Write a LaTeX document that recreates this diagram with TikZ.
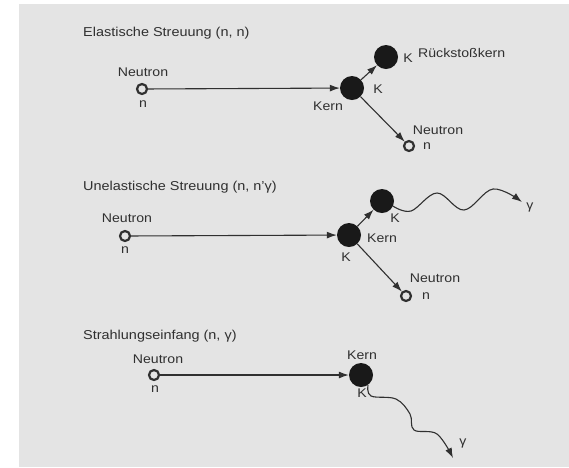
\documentclass[tikz,border=0pt]{standalone}
\usepackage{fontspec}
\setmainfont{Liberation Sans}[FakeStretch=1.12]
\usetikzlibrary{arrows.meta}

\definecolor{paper}{HTML}{E4E4E4}
\definecolor{ink}{HTML}{303030}

\begin{document}
\begin{tikzpicture}[
        x=1pt, y=-1pt,
        neutron/.style={
            circle,
            draw=ink,
            line width=2.2pt,
            fill=paper,
            minimum size=10pt,
            inner sep=0pt
        },
        nucleus/.style={
            circle,
            fill=black!90,
            minimum size=24pt,
            inner sep=0pt
        },
        heading/.style={
            font=\fontsize{12.9}{14}\selectfont,
            text=ink,
            anchor=west,
            inner sep=0pt
        },
        tag/.style={
            font=\fontsize{12.6}{14}\selectfont,
            text=ink,
            inner sep=0pt
        },
        flight/.style={
            -{Latex[length=10pt,width=7pt]},
            draw=ink,
            line width=1.1pt
        },
        wave/.style={
            -{Latex[length=10pt,width=7pt]},
            draw=ink,
            line width=1.1pt,
            smooth,
            tension=0.6
        }
    ]

    % ---------------------------------------------------------
    % Sheet
    % ---------------------------------------------------------
    \useasboundingbox[fill=white] (0,0) rectangle (569,467);
    \fill[paper] (19,4) rectangle (569,467);

    % ---------------------------------------------------------
    % Elastische Streuung
    % ---------------------------------------------------------
    \node[heading] (title1) at (83,33) {Elastische Streuung (n, n)};

    \node[neutron] (n1) at (142,89) {};
    \node[tag] (n1top) at (143,72) {Neutron};
    \node[tag] (n1bot) at (143,104) {n};

    \node[nucleus] (k1) at (352,88) {};
    \node[tag] (k1a) at (328,106) {Kern};
    \node[tag] (k1b) at (378,89) {K};

    \node[nucleus] (r1) at (386,57) {};
    \node[tag] (r1a) at (408,58) {K};
    \node[tag, anchor=west] (r1b) at (418,53) {Rückstoßkern};

    \node[neutron] (o1) at (409,146) {};
    \node[tag] (o1a) at (438,130) {Neutron};
    \node[tag] (o1b) at (427,146) {n};

    \draw[flight] (n1) -- (k1);
    \draw[flight] (k1) -- (r1);
    \draw[flight] (k1) -- (o1);

    % ---------------------------------------------------------
    % Unelastische Streuung
    % ---------------------------------------------------------
    \node[heading] (title2) at (83,187) {Unelastische Streuung (n, n'γ)};

    \node[neutron] (n2) at (125,236) {};
    \node[tag] (n2top) at (127,218) {Neutron};
    \node[tag] (n2bot) at (125,250) {n};

    \node[nucleus] (k2) at (349,235) {};
    \node[tag] (k2a) at (346,257) {K};
    \node[tag, anchor=west] (k2b) at (367,238) {Kern};

    \node[nucleus] (e2) at (382,201) {};
    \node[tag] (e2a) at (395,218) {K};

    \coordinate (g2) at (522,202);
    \node[tag] (g2a) at (530,207) {γ};

    \node[neutron] (o2) at (406,296) {};
    \node[tag] (o2a) at (435,278) {Neutron};
    \node[tag] (o2b) at (426,296) {n};

    \draw[flight] (n2) -- (k2);
    \draw[flight] (k2) -- (e2);
    \draw[flight] (k2) -- (o2);
    \draw[wave] plot coordinates
        {(e2.-25) (411,211) (437,193) (464,210) (493,189) (g2)};

    % ---------------------------------------------------------
    % Strahlungseinfang
    % ---------------------------------------------------------
    \node[heading] (title3) at (83,336) {Strahlungseinfang (n, γ)};

    \node[neutron] (n3) at (154,375) {};
    \node[tag] (n3top) at (158,359) {Neutron};
    \node[tag] (n3bot) at (155,389) {n};

    \node[nucleus] (k3) at (361,375) {};
    \node[tag] (k3a) at (362,355) {Kern};
    \node[tag] (k3b) at (362,393) {K};

    \coordinate (g3) at (453,458);
    \node[tag] (g3a) at (463,443) {γ};

    \draw[flight] (n3) -- (k3);
    \draw[wave] plot coordinates
        {(k3.-55) (371,396) (396,399) (410,414) (414,430) (437,434) (g3)};

\end{tikzpicture}
\end{document}
